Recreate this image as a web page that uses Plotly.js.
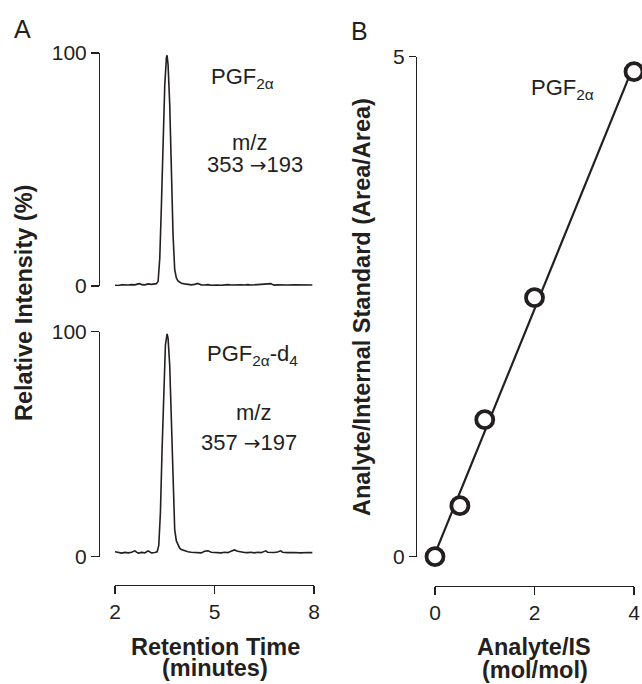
<!DOCTYPE html>
<html>
<head>
<meta charset="utf-8">
<script src="https://cdn.plot.ly/plotly-3.0.1.min.js"></script>
<style>html,body{margin:0;padding:0;background:#fff;}#chart{width:642px;height:684px;}</style>
</head>
<body>
<div id="chart"></div>
<script>
// Panel A, top chromatogram: PGF2α, m/z 353→193
const timeTop = [2.00,2.10,2.20,2.30,2.40,2.50,2.60,2.70,2.75,2.80,2.90,3.00,3.10,3.20,3.25,3.30,3.35,3.40,3.45,3.50,3.55,3.57,3.60,3.65,3.70,3.75,3.80,3.85,3.90,3.95,4.00,4.10,4.20,4.30,4.40,4.50,4.55,4.60,4.70,4.80,4.90,5.00,5.10,5.20,5.30,5.40,5.50,5.60,5.70,5.80,5.90,6.00,6.10,6.20,6.30,6.40,6.50,6.60,6.70,6.75,6.80,6.90,7.00,7.20,7.40,7.60,7.80,7.95];
const intensityTop = [0.3,0.2,0.5,0.3,0.4,0.6,0.5,0.9,1.0,0.6,0.5,0.9,0.7,0.9,1.0,2,12,35,62,86,98,99,95,78,50,22,7,3.5,2.2,1.6,1.2,0.9,0.6,0.5,0.7,1.1,0.8,0.5,0.4,0.6,0.3,0.5,0.4,0.3,0.5,0.6,0.4,0.5,0.3,0.5,0.4,0.6,0.4,0.5,0.4,0.6,0.5,0.8,1.0,0.6,0.4,0.5,0.4,0.4,0.5,0.4,0.5,0.4];

// Panel A, bottom chromatogram: PGF2α-d4, m/z 357→197
const timeBottom = [2.00,2.10,2.20,2.30,2.40,2.50,2.60,2.65,2.70,2.80,2.90,3.00,3.05,3.10,3.20,3.27,3.32,3.37,3.42,3.47,3.52,3.57,3.60,3.65,3.70,3.75,3.80,3.85,3.90,3.95,4.00,4.10,4.20,4.30,4.40,4.50,4.60,4.70,4.80,4.90,5.00,5.10,5.20,5.30,5.40,5.50,5.60,5.70,5.80,5.90,6.00,6.10,6.20,6.30,6.40,6.50,6.55,6.60,6.70,6.80,6.90,7.00,7.05,7.20,7.40,7.60,7.80,7.95];
const intensityBottom = [2.2,1.8,1.6,1.9,1.7,2.0,2.6,2.0,1.6,1.9,1.7,2.6,2.0,1.7,1.9,2.2,5,20,48,75,94,99,97,85,58,28,12,7,5,3.8,3.2,2.6,2.2,2.0,1.8,1.9,1.7,2.4,2.6,2.0,1.8,1.9,1.7,2.0,1.8,2.4,3.0,2.4,2.0,1.9,1.8,2.0,1.7,2.0,1.8,2.4,2.6,2.0,1.8,1.9,2.1,2.6,2.0,1.8,1.9,1.7,1.9,1.8];

// Panel B: calibration curve
const ratioMol = [0, 0.5, 1, 2, 4];
const ratioArea = [0, 0.51, 1.37, 2.59, 4.85];

const ticksTime = [2, 5, 8];
const ticksIntensity = [0, 100];
const ticksMol = [0, 2, 4];
const ticksArea = [0, 5];

// least-squares fit line through calibration points
const n = ratioMol.length;
const mx = ratioMol.reduce((a,b)=>a+b,0)/n;
const my = ratioArea.reduce((a,b)=>a+b,0)/n;
let sxy = 0, sxx = 0;
for (let i=0;i<n;i++){ sxy += (ratioMol[i]-mx)*(ratioArea[i]-my); sxx += (ratioMol[i]-mx)**2; }
const slope = sxy/sxx, icpt = my - slope*mx;
const fitX = [Math.min(...ratioMol), Math.max(...ratioMol)];
const fitY = fitX.map(v => icpt + slope*v);

const W = 642, H = 684;
const px = v => v / W;
const py = v => 1 - v / H;

const FONT = 'Liberation Sans, Arial, Helvetica, sans-serif';
const INK = '#231f20';
const tickFont = {family: FONT, size: 21, color: INK};
const labFont = {family: FONT, size: 22, color: INK};
const titleFont = {family: FONT, size: 23.5, color: INK};
const ARROW = '<span style="font-family:DejaVu Sans;font-size:20px">→</span>';

const traces = [
  {x: timeTop, y: intensityTop, xaxis: 'x', yaxis: 'y', mode: 'lines', line: {color: INK, width: 1.6}, hoverinfo: 'skip'},
  {x: timeBottom, y: intensityBottom, xaxis: 'x2', yaxis: 'y2', mode: 'lines', line: {color: INK, width: 1.6}, hoverinfo: 'skip'},
  {x: fitX, y: fitY, xaxis: 'x3', yaxis: 'y3', mode: 'lines', line: {color: INK, width: 2.2}, hoverinfo: 'skip'},
  {x: ratioMol, y: ratioArea, xaxis: 'x3', yaxis: 'y3', mode: 'markers', cliponaxis: false,
   marker: {symbol: 'circle', size: 17, color: '#ffffff', line: {color: INK, width: 3.8}}}
];

const axisCommon = {showgrid: false, zeroline: false, showline: true, linecolor: INK, linewidth: 1.2,
  ticks: 'outside', ticklen: 8, tickwidth: 1.2, tickcolor: INK, tickfont: tickFont, fixedrange: true};

const ann = (text, x, y, font, extra) => Object.assign({text: text, x: px(x), y: py(y), xref: 'paper', yref: 'paper',
  xanchor: 'center', yanchor: 'middle', showarrow: false, font: font}, extra || {});

const layout = {
  width: W, height: H,
  margin: {l: 0, r: 0, t: 0, b: 0},
  paper_bgcolor: '#fff', plot_bgcolor: 'rgba(0,0,0,0)',
  showlegend: false,
  font: {family: FONT, color: INK},
  // top chromatogram
  xaxis: Object.assign({}, axisCommon, {domain: [px(115), px(314)], range: [2, 8], visible: false, anchor: 'y'}),
  yaxis: Object.assign({}, axisCommon, {domain: [py(286), py(53)], range: [0, 100], tickvals: ticksIntensity,
    anchor: 'free', position: px(99)}),
  // bottom chromatogram
  xaxis2: Object.assign({}, axisCommon, {domain: [px(115), px(314)], range: [2, 8], tickvals: ticksTime,
    anchor: 'free', position: py(585)}),
  yaxis2: Object.assign({}, axisCommon, {domain: [py(556.7), py(331.7)], range: [0, 100], tickvals: ticksIntensity,
    anchor: 'free', position: px(99)}),
  // calibration
  xaxis3: Object.assign({}, axisCommon, {domain: [px(435), px(634)], range: [0, 4], tickvals: ticksMol,
    anchor: 'free', position: py(585.7)}),
  yaxis3: Object.assign({}, axisCommon, {domain: [py(556.7), py(56.7)], range: [0, 5], tickvals: ticksArea,
    anchor: 'free', position: px(416), ticklen: 7}),
  annotations: [
    ann('A', 23, 29, {family: FONT, size: 25, color: INK}),
    ann('B', 360, 31, {family: FONT, size: 25, color: INK}),
    ann('PGF<sub>2α</sub>', 242, 78, labFont),
    ann('m/z', 249, 143, labFont),
    ann('353 ' + ARROW + '193', 255, 165, labFont),
    ann('PGF<sub>2α</sub>-d<sub>4</sub>', 252, 355, labFont),
    ann('m/z', 253, 413, labFont),
    ann('357 ' + ARROW + '197', 249, 442, labFont),
    ann('PGF<sub>2α</sub>', 562, 89, labFont),
    ann('<b>Relative Intensity (%)</b>', 24, 303, titleFont, {textangle: -90}),
    ann('<b>Retention Time</b>', 215, 647, titleFont),
    ann('<b>(minutes)</b>', 215, 668, titleFont),
    ann('<b>Analyte/Internal Standard (Area/Area)</b>', 362, 307, titleFont, {textangle: -90}),
    ann('<b>Analyte/IS</b>', 534, 647, titleFont),
    ann('<b>(mol/mol)</b>', 535, 670, titleFont)
  ]
};

Plotly.newPlot('chart', traces, layout, {displayModeBar: false, staticPlot: true});
</script>
</body>
</html>
